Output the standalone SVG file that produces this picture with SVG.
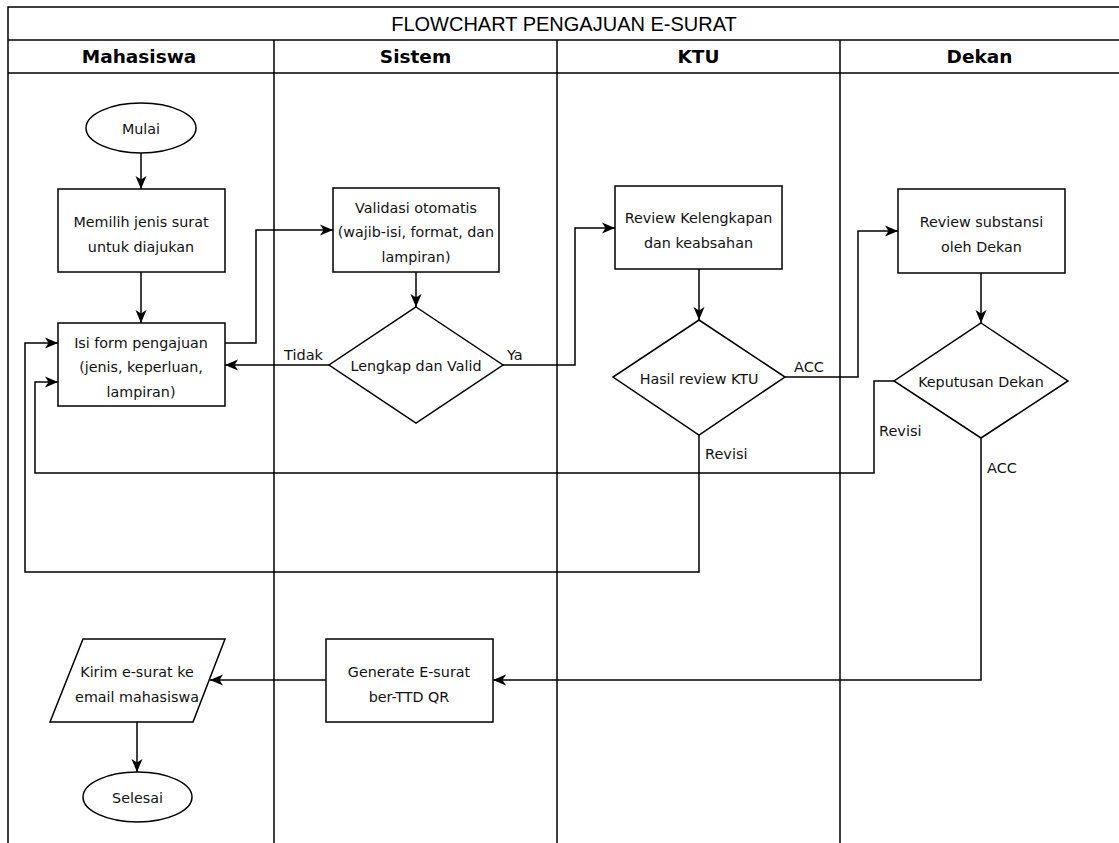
<svg xmlns="http://www.w3.org/2000/svg" width="1119" height="843" viewBox="0 0 1119 843">
<style>
.frame{fill:none;stroke:#000;stroke-width:1.5}
.shape{fill:#fff;stroke:#000;stroke-width:1.5}
.conn{fill:none;stroke:#000;stroke-width:1.5}
.t{font-family:"DejaVu Sans","Liberation Sans",sans-serif;font-size:14.3px;fill:#111;text-anchor:middle;dominant-baseline:central}
.lbl{font-family:"DejaVu Sans","Liberation Sans",sans-serif;font-size:14.5px;fill:#111;text-anchor:start;dominant-baseline:central}
.title{font-family:"Liberation Sans",Arial,sans-serif;font-size:20px;fill:#000;text-anchor:middle;dominant-baseline:central}
.hdr{font-family:"DejaVu Sans","Liberation Sans",sans-serif;font-size:18.5px;font-weight:bold;fill:#000;text-anchor:middle;dominant-baseline:central}
</style>
<defs>
<marker id="arr" markerUnits="userSpaceOnUse" markerWidth="14" markerHeight="12" refX="13" refY="6" orient="auto">
<path d="M0,0.5 L13,6 L0,11.5 L3.5,6 Z" fill="#000"/>
</marker>
</defs>
<rect width="1119" height="843" fill="#fff"/>
<g id="pool">
<path class="frame" d="M8,843 V7 H1119 M8,40 H1119 M8,73 H1119 M274,40 V843 M557,40 V843 M840,40 V843"/>
<text class="title" x="564" y="23.5">FLOWCHART PENGAJUAN E-SURAT</text>
<text class="hdr" x="139" y="56.5">Mahasiswa</text>
<text class="hdr" x="415.5" y="56.5">Sistem</text>
<text class="hdr" x="698.5" y="56.5">KTU</text>
<text class="hdr" x="979.5" y="56.5">Dekan</text>
</g>
<g id="connectors">
<path class="conn" marker-end="url(#arr)" d="M141,153 V189"/>
<path class="conn" marker-end="url(#arr)" d="M141,272 V323"/>
<path class="conn" marker-end="url(#arr)" d="M225,343 H256 V230 H333"/>
<path class="conn" marker-end="url(#arr)" d="M416,272 V307"/>
<path class="conn" marker-end="url(#arr)" d="M329,365 H225"/>
<path class="conn" marker-end="url(#arr)" d="M503,365 H575 V228 H615"/>
<path class="conn" marker-end="url(#arr)" d="M699,269 V320"/>
<path class="conn" marker-end="url(#arr)" d="M785,377 H858 V231 H898"/>
<path class="conn" marker-end="url(#arr)" d="M699,435 V572 H25 V343 H58"/>
<path class="conn" marker-end="url(#arr)" d="M981,273 V323"/>
<path class="conn" marker-end="url(#arr)" d="M894,381 H874 V473 H35 V382 H58"/>
<path class="conn" marker-end="url(#arr)" d="M981,438 V680 H493"/>
<path class="conn" marker-end="url(#arr)" d="M326,680 H210"/>
<path class="conn" marker-end="url(#arr)" d="M137,722 V772"/>
<text class="lbl" x="284" y="355">Tidak</text>
<text class="lbl" x="507" y="355">Ya</text>
<text class="lbl" x="794" y="367">ACC</text>
<text class="lbl" x="705" y="454">Revisi</text>
<text class="lbl" x="879" y="431">Revisi</text>
<text class="lbl" x="987" y="468">ACC</text>
</g>
<g id="mulai">
<ellipse class="shape" cx="141" cy="128" rx="55" ry="25"/>
<text class="t" x="141" y="129">Mulai</text>
</g>
<g id="pilih">
<rect class="shape" x="58" y="189" width="167" height="83"/>
<text class="t" x="141" y="222">Memilih jenis surat</text>
<text class="t" x="141" y="247">untuk diajukan</text>
</g>
<g id="form">
<rect class="shape" x="58" y="323" width="167" height="83"/>
<text class="t" x="141" y="343">Isi form pengajuan</text>
<text class="t" x="141" y="367">(jenis, keperluan,</text>
<text class="t" x="141" y="392">lampiran)</text>
</g>
<g id="validasi">
<rect class="shape" x="333" y="188" width="166" height="84"/>
<text class="t" x="416" y="208">Validasi otomatis</text>
<text class="t" x="416" y="232">(wajib-isi, format, dan</text>
<text class="t" x="416" y="257">lampiran)</text>
</g>
<g id="lengkap">
<polygon class="shape" points="416,307 503,365 416,423 329,365"/>
<text class="t" x="416" y="366">Lengkap dan Valid</text>
</g>
<g id="reviewktu">
<rect class="shape" x="615" y="186" width="167" height="83"/>
<text class="t" x="698.5" y="218">Review Kelengkapan</text>
<text class="t" x="698.5" y="243">dan keabsahan</text>
</g>
<g id="hasilktu">
<polygon class="shape" points="699,320 785,377 699,435 613,377"/>
<text class="t" x="699" y="379">Hasil review KTU</text>
</g>
<g id="reviewdekan">
<rect class="shape" x="898" y="189" width="167" height="84"/>
<text class="t" x="981.5" y="222">Review substansi</text>
<text class="t" x="981.5" y="247">oleh Dekan</text>
</g>
<g id="keputusan">
<polygon class="shape" points="981,323 1068,381 981,438 894,381"/>
<text class="t" x="981" y="382">Keputusan Dekan</text>
</g>
<g id="generate">
<rect class="shape" x="326" y="639" width="167" height="83"/>
<text class="t" x="409" y="672">Generate E-surat</text>
<text class="t" x="409" y="697">ber-TTD QR</text>
</g>
<g id="kirim">
<polygon class="shape" points="83,639 225,639 193,722 50,722"/>
<text class="t" x="137" y="672">Kirim e-surat ke</text>
<text class="t" x="137" y="697">email mahasiswa</text>
</g>
<g id="selesai">
<ellipse class="shape" cx="137.5" cy="797" rx="54.5" ry="25"/>
<text class="t" x="137.5" y="798">Selesai</text>
</g>
</svg>
